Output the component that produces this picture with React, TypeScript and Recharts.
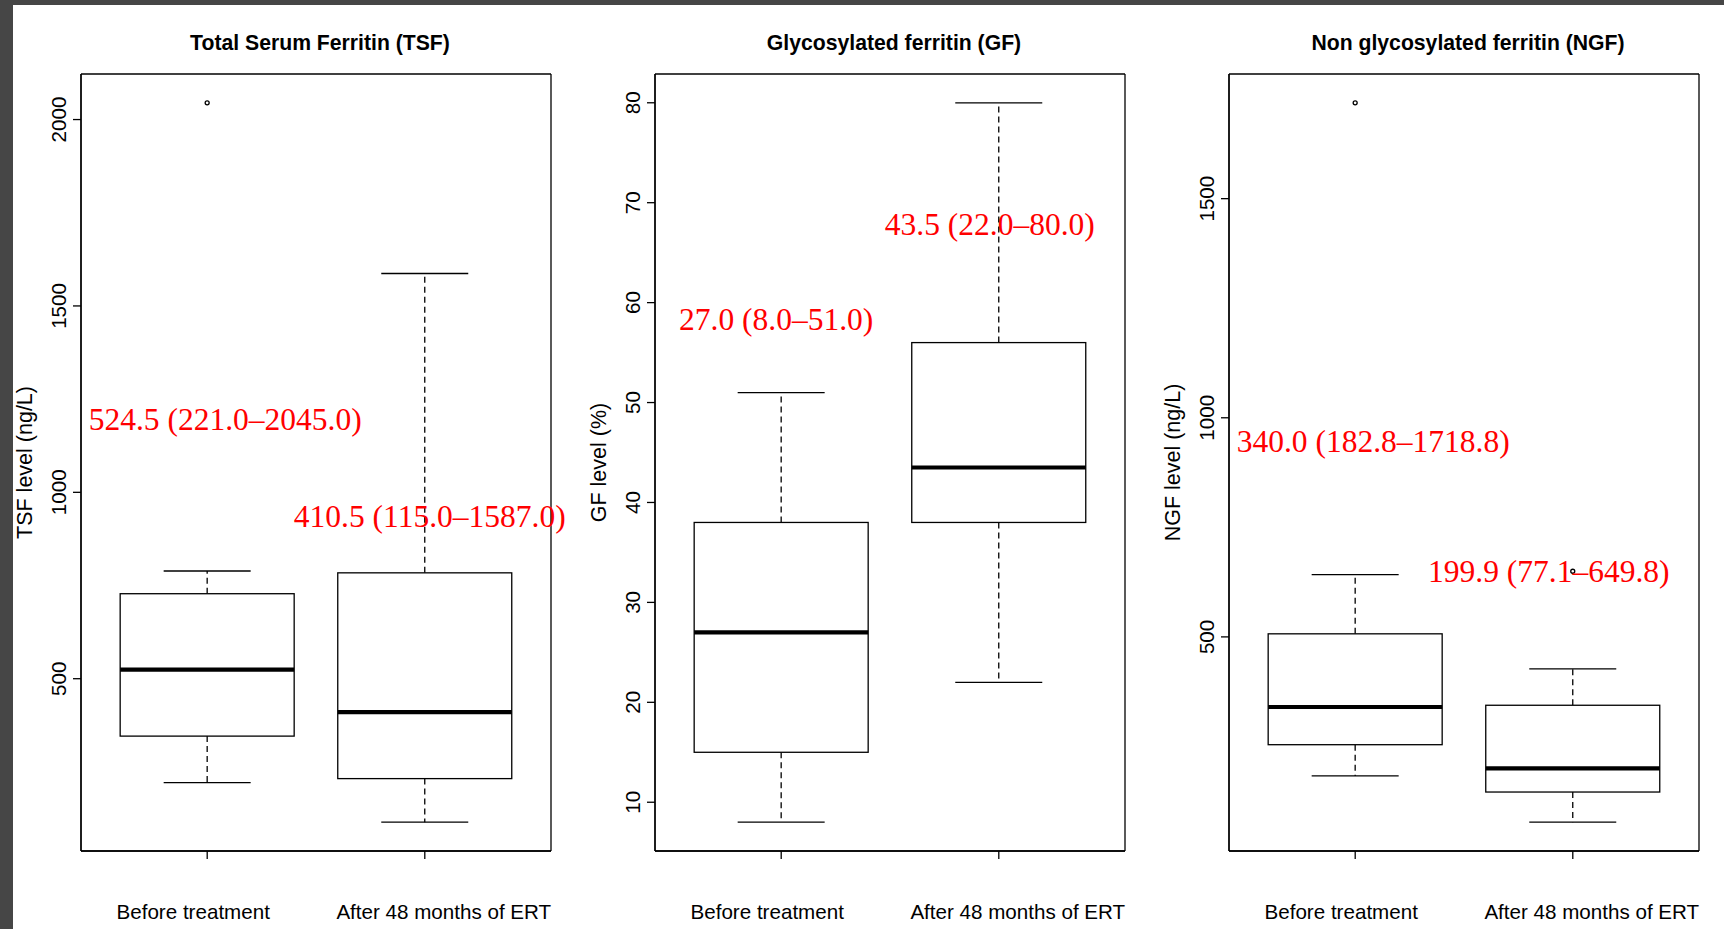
import React from 'react';
import { ComposedChart, Bar, XAxis, YAxis, CartesianGrid } from 'recharts';

// ---------- DATA ----------
const categories = ['Before treatment', 'After 48 months of ERT'];

// Total Serum Ferritin (ng/L)
const tsfLowWhisker = [221.0, 115.0];
const tsfQ1 = [346, 232];
const tsfMedian = [524.5, 410.5];
const tsfQ3 = [728, 784];
const tsfHighWhisker = [789, 1587.0];
const tsfOutliers = [[2045.0], []];
const tsfAnnotations = ['524.5 (221.0–2045.0)', '410.5 (115.0–1587.0)'];
const tsfTicks = [500, 1000, 1500, 2000];

// Glycosylated ferritin (%)
const gfLowWhisker = [8.0, 22.0];
const gfQ1 = [15, 38];
const gfMedian = [27.0, 43.5];
const gfQ3 = [38, 56];
const gfHighWhisker = [51.0, 80.0];
const gfOutliers = [[], []];
const gfAnnotations = ['27.0 (8.0–51.0)', '43.5 (22.0–80.0)'];
const gfTicks = [10, 20, 30, 40, 50, 60, 70, 80];

// Non glycosylated ferritin (ng/L)
const ngfLowWhisker = [182.8, 77.1];
const ngfQ1 = [254, 146];
const ngfMedian = [340.0, 199.9];
const ngfQ3 = [507, 344];
const ngfHighWhisker = [642, 427];
const ngfOutliers = [[1718.8], [649.8]];
const ngfAnnotations = ['340.0 (182.8–1718.8)', '199.9 (77.1–649.8)'];
const ngfTicks = [500, 1000, 1500];

// ---------- LAYOUT / STYLE ----------
const FONT = "'Liberation Sans', Arial, Helvetica, sans-serif";
const SERIF = "'Liberation Serif', 'Times New Roman', Times, serif";
const CH_W = 574;
const CH_H = 929;
const M_TOP = 74;
const M_LEFT = 21;
const M_RIGHT = 23;
const Y_W = 60;
const X_H = 78;
const PLOT_W = CH_W - M_LEFT - Y_W - M_RIGHT;
const PAD = (PLOT_W * 0.08) / 2.16;
const X_LABEL_DX = [-14, 19];

type Row = {
  cat: string;
  lo: number;
  q1: number;
  med: number;
  q3: number;
  hi: number;
  out: number[];
  span: [number, number];
  note: string;
};

function buildRows(lo: number[], q1: number[], med: number[], q3: number[], hi: number[], out: number[][], notes: string[]): Row[] {
  return categories.map((cat, i) => {
    const all = [lo[i], hi[i], ...out[i]];
    return {
      cat,
      lo: lo[i],
      q1: q1[i],
      med: med[i],
      q3: q3[i],
      hi: hi[i],
      out: out[i],
      span: [Math.min(...all), Math.max(...all)] as [number, number],
      note: notes[i],
    };
  });
}

function rDomain(rows: Row[]): [number, number] {
  const mn = Math.min(...rows.map((r) => r.span[0]));
  const mx = Math.max(...rows.map((r) => r.span[1]));
  const e = (mx - mn) * 0.04;
  return [mn - e, mx + e];
}

type Panel = {
  title: string;
  yTitle: string;
  rows: Row[];
  ticks: number[];
  notePos: { v: number; dx: number }[];
};

const panels: Panel[] = [
  {
    title: 'Total Serum Ferritin (TSF)',
    yTitle: 'TSF level (ng/L)',
    rows: buildRows(tsfLowWhisker, tsfQ1, tsfMedian, tsfQ3, tsfHighWhisker, tsfOutliers, tsfAnnotations),
    ticks: tsfTicks,
    notePos: [
      { v: 1195, dx: 18 },
      { v: 935, dx: 5 },
    ],
  },
  {
    title: 'Glycosylated ferritin (GF)',
    yTitle: 'GF level (%)',
    rows: buildRows(gfLowWhisker, gfQ1, gfMedian, gfQ3, gfHighWhisker, gfOutliers, gfAnnotations),
    ticks: gfTicks,
    notePos: [
      { v: 58.3, dx: -5 },
      { v: 67.8, dx: -9 },
    ],
  },
  {
    title: 'Non glycosylated ferritin (NGF)',
    yTitle: 'NGF level (ng/L)',
    rows: buildRows(ngfLowWhisker, ngfQ1, ngfMedian, ngfQ3, ngfHighWhisker, ngfOutliers, ngfAnnotations),
    ticks: ngfTicks,
    notePos: [
      { v: 947, dx: 18 },
      { v: 649.8, dx: -24 },
    ],
  },
];

function BoxShape(props: any) {
  const { x, y, width, height, index, notePos } = props;
  const row: Row = (props.payload && props.payload.span ? props.payload : props) as Row;
  const [a, b] = row.span;
  const top = Math.min(y, y + height);
  const bot = Math.max(y, y + height);
  const py = (v: number) => top + ((bot - top) * (b - v)) / (b - a || 1);
  const cx = x + width / 2;
  const capHalf = width / 4;
  const np = notePos[index];
  return (
    <g>
      <line x1={cx} x2={cx} y1={py(row.q3)} y2={py(row.hi)} stroke="#000" strokeWidth={1.3} strokeDasharray="6 4" />
      <line x1={cx} x2={cx} y1={py(row.q1)} y2={py(row.lo)} stroke="#000" strokeWidth={1.3} strokeDasharray="6 4" />
      <line x1={cx - capHalf} x2={cx + capHalf} y1={py(row.hi)} y2={py(row.hi)} stroke="#000" strokeWidth={1.3} />
      <line x1={cx - capHalf} x2={cx + capHalf} y1={py(row.lo)} y2={py(row.lo)} stroke="#000" strokeWidth={1.3} />
      <rect x={x} y={py(row.q3)} width={width} height={py(row.q1) - py(row.q3)} fill="#fff" stroke="#000" strokeWidth={1.3} />
      <line x1={x} x2={x + width} y1={py(row.med)} y2={py(row.med)} stroke="#000" strokeWidth={4.2} />
      {row.out.map((o, k) => (
        <circle key={k} cx={cx} cy={py(o)} r={2} fill="none" stroke="#000" strokeWidth={1.3} />
      ))}
      <text
        x={cx + np.dx}
        y={py(np.v)}
        textAnchor="middle"
        dominantBaseline="central"
        fontFamily={SERIF}
        fontSize={31.5}
        fill="#ff0000"
      >
        {row.note}
      </text>
    </g>
  );
}

const XTick = (props: any) => {
  const { x, y, payload, index } = props;
  return (
    <text x={x + X_LABEL_DX[index]} y={y + 58} textAnchor="middle" fontFamily={FONT} fontSize={20.6} fill="#000">
      {payload.value}
    </text>
  );
};

const YTick = (props: any) => {
  const { x, y, payload } = props;
  return (
    <text
      x={0}
      y={0}
      transform={`translate(${x - 13}, ${y}) rotate(-90)`}
      textAnchor="middle"
      dominantBaseline="central"
      fontFamily={FONT}
      fontSize={20.6}
      fill="#000"
    >
      {payload.value}
    </text>
  );
};

const frameRows = (gp: any) => {
  const o = gp && gp.offset;
  return o ? [o.top, o.top + o.height] : [];
};
const frameCols = (gp: any) => {
  const o = gp && gp.offset;
  return o ? [o.left, o.left + o.width] : [];
};

function PanelChart({ p, left }: { p: Panel; left: number }) {
  const domain = rDomain(p.rows);
  const yTitle = (lp: any) => {
    const vb = lp.viewBox || { x: M_LEFT, y: M_TOP, width: Y_W, height: 777 };
    const cy = vb.y + vb.height / 2;
    const cx = 24.5;
    return (
      <text
        x={0}
        y={0}
        transform={`translate(${cx}, ${cy}) rotate(-90)`}
        textAnchor="middle"
        dominantBaseline="central"
        fontFamily={FONT}
        fontSize={21.5}
        fill="#000"
      >
        {p.yTitle}
      </text>
    );
  };
  return (
    <div style={{ position: 'absolute', left, top: 0, width: CH_W, height: CH_H }}>
      <div
        style={{
          position: 'absolute',
          left: M_LEFT + Y_W,
          width: PLOT_W,
          top: 30,
          textAlign: 'center',
          fontFamily: FONT,
          fontWeight: 'bold',
          fontSize: 21.2,
          lineHeight: '26px',
          color: '#000',
          paddingLeft: 4,
          whiteSpace: 'nowrap',
        }}
      >
        {p.title}
      </div>
      <ComposedChart
        width={CH_W}
        height={CH_H}
        data={p.rows}
        margin={{ top: M_TOP, right: M_RIGHT, bottom: 0, left: M_LEFT }}
        barCategoryGap="10%"
        style={{ position: 'absolute', left: 0, top: 0 }}
      >
        <CartesianGrid
          stroke="#000"
          strokeWidth={1.3}
          fill="none"
          horizontalCoordinatesGenerator={frameRows}
          verticalCoordinatesGenerator={frameCols}
        />
        <XAxis
          dataKey="cat"
          height={X_H}
          padding={{ left: PAD, right: PAD }}
          tickSize={8}
          tickLine={{ stroke: '#000', strokeWidth: 1.3 }}
          axisLine={{ stroke: '#000', strokeWidth: 1.3 }}
          tick={<XTick />}
          interval={0}
        />
        <YAxis
          type="number"
          domain={domain}
          ticks={p.ticks}
          interval={0}
          width={Y_W}
          tickSize={8}
          tickLine={{ stroke: '#000', strokeWidth: 1.3 }}
          axisLine={{ stroke: '#000', strokeWidth: 1.3 }}
          tick={<YTick />}
          allowDataOverflow
          label={yTitle}
        />
        <Bar
          dataKey="span"
          isAnimationActive={false}
          shape={(sp: any) => <BoxShape {...sp} notePos={p.notePos} />}
        />
      </ComposedChart>
    </div>
  );
}

export default function App() {
  return (
    <div style={{ position: 'absolute', left: 0, top: 0, width: 1724, height: 929, background: '#464646', overflow: 'hidden' }}>
      <div style={{ position: 'absolute', left: 13, top: 5, width: 1711, height: 924, background: '#fff' }} />
      {panels.map((p, i) => (
        <PanelChart key={i} p={p} left={i * CH_W} />
      ))}
    </div>
  );
}
